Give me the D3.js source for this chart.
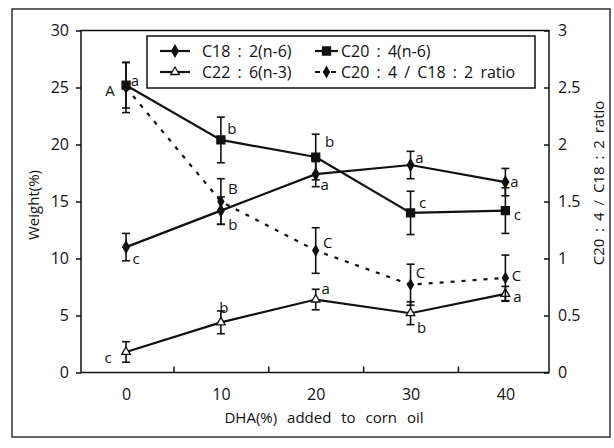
<!DOCTYPE html>
<html>
<head>
<meta charset="utf-8">
<script src="https://cdn.jsdelivr.net/npm/d3@7"></script>
<style>
  body { margin: 0; background: #fff; }
  text { font-family: "Open Sans", sans-serif; fill: #111; }
</style>
</head>
<body>
<svg width="614" height="448"></svg>
<script>
// data
const dha = [0, 10, 20, 30, 40];
const c18 = [11.0, 14.2, 17.4, 18.2, 16.7];
const c18Err = [1.2, 1.2, 1.1, 1.2, 1.2];
const c18Let = ["c", "b", "a", "a", "a"];
const c20 = [25.2, 20.4, 18.9, 14.0, 14.2];
const c20Err = [2.0, 2.0, 2.0, 1.9, 2.0];
const c20Let = ["a", "b", "b", "c", "c"];
const c22 = [1.8, 4.4, 6.4, 5.2, 6.9];
const c22Err = [0.9, 1.0, 0.9, 1.0, 0.65];
const c22Let = ["c", "b", "a", "b", "a"];
const ratio = [2.5, 1.5, 1.07, 0.77, 0.83];
const ratioErr = [0.22, 0.2, 0.2, 0.18, 0.2];
const ratioLet = ["A", "B", "C", "C", "C"];
const xTickLabels = [0, 10, 20, 30, 40];
const xInnerTicks = [5, 15, 25, 35];
const yLeftTicks = [0, 5, 10, 15, 20, 25, 30];
const yRightTicks = [0, 0.5, 1, 1.5, 2, 2.5, 3];

var svg = d3.select("svg");
var margin = { top: 30.5, right: 65, bottom: 75.5, left: 81 };
var W = 614, H = 448;

var x = d3.scaleLinear().domain([-4.75, 44.6]).range([margin.left, W - margin.right]);
var yL = d3.scaleLinear().domain([0, 30]).range([H - margin.bottom, margin.top]);
var yR = d3.scaleLinear().domain([0, 3]).range([H - margin.bottom, margin.top]);

// outer frame
svg.append("rect")
    .attr("x", 12).attr("y", 9).attr("width", 598).attr("height", 428)
    .attr("fill", "none").attr("stroke", "#333").attr("stroke-width", 1.5);

// plot box
svg.append("rect")
    .attr("x", margin.left).attr("y", margin.top)
    .attr("width", W - margin.right - margin.left)
    .attr("height", H - margin.bottom - margin.top)
    .attr("fill", "none").attr("stroke", "#111").attr("stroke-width", 1.5);

// axes
var gxTicks = svg.append("g").attr("transform", `translate(0,${H - margin.bottom})`)
    .call(d3.axisTop(x).tickValues(xInnerTicks).tickSize(6).tickFormat(""));
var gxLabels = svg.append("g").attr("transform", `translate(0,${H - margin.bottom})`)
    .call(d3.axisBottom(x).tickValues(xTickLabels).tickSize(0).tickPadding(16));
var gyL = svg.append("g").attr("transform", `translate(${margin.left},0)`)
    .call(d3.axisLeft(yL).tickValues(yLeftTicks).tickSize(5).tickPadding(7));
var gyR = svg.append("g").attr("transform", `translate(${W - margin.right},0)`)
    .call(d3.axisRight(yR).tickValues(yRightTicks).tickSize(-5).tickPadding(9)
        .tickFormat(d3.format("")));

[gxTicks, gxLabels, gyL, gyR].forEach(g => {
    g.select(".domain").remove();
    g.selectAll(".tick line").attr("stroke", "#111").attr("stroke-width", 1.5);
    g.selectAll(".tick text").attr("font-size", 16).attr("fill", "#111")
        .style("font-family", '"Open Sans", sans-serif');
});

// axis titles
svg.append("text")
    .attr("transform", "translate(33,205) rotate(-90)")
    .attr("text-anchor", "middle").attr("dominant-baseline", "central")
    .attr("font-size", 15).text("Weight(%)");

svg.append("text")
    .attr("transform", "translate(598,183) rotate(-90)")
    .attr("text-anchor", "middle").attr("dominant-baseline", "central")
    .attr("font-size", 15).attr("word-spacing", 3)
    .text("C20 : 4 / C18 : 2 ratio");

svg.append("text")
    .attr("x", 324).attr("y", 417)
    .attr("text-anchor", "middle").attr("dominant-baseline", "central")
    .attr("font-size", 15).attr("word-spacing", 6)
    .text("DHA(%) added to corn oil");

// series
var series = [
    { vals: c18, err: c18Err, lets: c18Let, y: yL, sym: d3.symbolDiamond, size: 38, fill: "#111", dash: null,
      off: [[10, 11], [12, 13], [9, 10], [9, -8], [9, -1]] },
    { vals: c20, err: c20Err, lets: c20Let, y: yL, sym: d3.symbolSquare, size: 64, fill: "#111", dash: null,
      off: [[9, -5], [11, -12], [14, -16], [12, -11], [12, 3]] },
    { vals: c22, err: c22Err, lets: c22Let, y: yL, sym: d3.symbolTriangle, size: 32, fill: "#fff", dash: null,
      off: [[-18, 5], [3, -15], [10, -12], [11, 14], [12, 2]] },
    { vals: ratio, err: ratioErr, lets: ratioLet, y: yR, sym: d3.symbolDiamond, size: 30, fill: "#111", dash: "4,7",
      off: [[-16, 2], [12, -14], [12, -9], [10, -13], [11, -3]] }
];

series.forEach(s => {
    let pts = dha.map((d, i) => ({ x: d, v: s.vals[i], e: s.err[i], l: s.lets[i], o: s.off[i] }));
    let line = d3.line().x(d => x(d.x)).y(d => s.y(d.v));

    svg.append("path")
        .datum(pts)
        .attr("fill", "none")
        .attr("stroke", "#111")
        .attr("stroke-width", 2.2)
        .attr("stroke-dasharray", s.dash)
        .attr("d", line);

    let eb = svg.append("g").selectAll("g").data(pts).enter().append("g");
    eb.append("line")
        .attr("x1", d => x(d.x)).attr("x2", d => x(d.x))
        .attr("y1", d => s.y(d.v + d.e)).attr("y2", d => s.y(d.v - d.e))
        .attr("stroke", "#111").attr("stroke-width", 1.6);
    [1, -1].forEach(sign => {
        eb.append("line")
            .attr("x1", d => x(d.x) - 4).attr("x2", d => x(d.x) + 4)
            .attr("y1", d => s.y(d.v + sign * d.e)).attr("y2", d => s.y(d.v + sign * d.e))
            .attr("stroke", "#111").attr("stroke-width", 1.6);
    });

    svg.append("g").selectAll("path").data(pts).enter().append("path")
        .attr("transform", d => `translate(${x(d.x)},${s.y(d.v)})`)
        .attr("d", d3.symbol().type(s.sym).size(s.size))
        .attr("fill", s.fill).attr("stroke", "#111").attr("stroke-width", 1.3);

    svg.append("g").selectAll("text").data(pts).enter().append("text")
        .attr("x", d => x(d.x) + d.o[0]).attr("y", d => s.y(d.v) + d.o[1])
        .attr("text-anchor", "middle").attr("dominant-baseline", "central")
        .attr("font-size", 15)
        .text(d => d.l);
});

// legend
var legendItems = [
    { name: "C18 : 2(n-6)", s: series[0], col: 0, row: 0 },
    { name: "C20 : 4(n-6)", s: series[1], col: 1, row: 0 },
    { name: "C22 : 6(n-3)", s: series[2], col: 0, row: 1 },
    { name: "C20 : 4 / C18 : 2 ratio", s: series[3], col: 1, row: 1 }
];
var legend = svg.append("g");
legend.append("rect")
    .attr("x", 147).attr("y", 36).attr("width", 388).attr("height", 52)
    .attr("fill", "#fff").attr("stroke", "#111").attr("stroke-width", 1.5);

var colX = [[160, 190, 202], [315, 338, 341]];
var rowY = [51, 72];
legendItems.forEach(it => {
    let c = colX[it.col], yy = rowY[it.row];
    legend.append("line")
        .attr("x1", c[0]).attr("x2", c[1]).attr("y1", yy).attr("y2", yy)
        .attr("stroke", "#111").attr("stroke-width", 2.2)
        .attr("stroke-dasharray", it.s.dash ? "5,3" : null);
    legend.append("path")
        .attr("transform", `translate(${(c[0] + c[1]) / 2},${yy})`)
        .attr("d", d3.symbol().type(it.s.sym).size(it.s.size))
        .attr("fill", it.s.fill).attr("stroke", "#111").attr("stroke-width", 1.3);
    legend.append("text")
        .attr("x", c[2]).attr("y", yy)
        .attr("dominant-baseline", "central")
        .attr("font-size", 16).attr("word-spacing", 3)
        .text(it.name);
});
</script>
</body>
</html>
